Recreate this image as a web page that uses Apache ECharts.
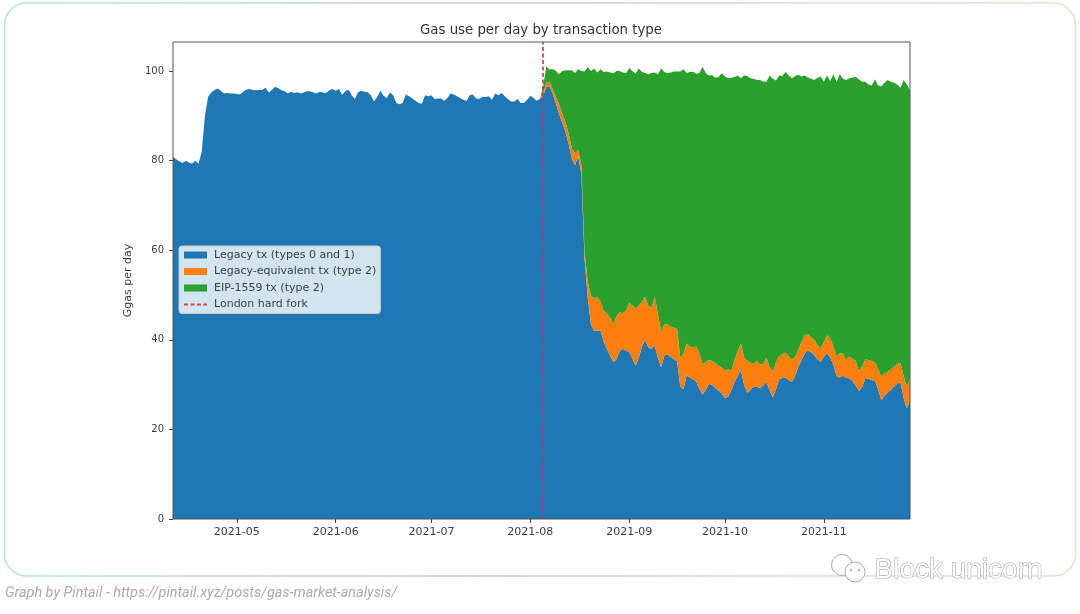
<!DOCTYPE html>
<html>
<head>
<meta charset="utf-8">
<title>Gas use per day by transaction type</title>
<script src="https://cdn.jsdelivr.net/npm/echarts@6/dist/echarts.min.js"></script>
<style>
html, body { margin: 0; padding: 0; background: #fff; }
#chart { width: 1080px; height: 614px; }
</style>
</head>
<body>
<div id="chart"></div>
<script>
// ==========================================
// DATA (Ggas per day)
// ==========================================
const firstDay = '2021-04-11';
const forkDay = '2021-08-05'; // London hard fork
const yMax = 106.5;
const yTicks = [0, 20, 40, 60, 80, 100];
const xTicks = ['2021-05-01', '2021-06-01', '2021-07-01', '2021-08-01', '2021-09-01', '2021-10-01', '2021-11-01'];

// one value per day from firstDay
const legacyTx = [
  80.8,80.3,79.8,79.5,80,79.6,79.4,80,79.3,82,
  90,94.3,95.2,95.8,96.1,95.6,95,95.1,95,95,
  94.9,94.8,95.4,95.9,96,95.8,95.7,95.8,95.8,96.3,
  95.2,95.8,96.5,96.2,95.7,95.5,95,95.4,95.1,95.3,
  95,95.2,95.5,95.5,95.2,95,95.4,95.2,95.1,95.7,
  96,95.6,96,94.7,95.5,95.9,94.6,93.8,95.3,95.6,
  95.4,95.3,94.6,93.2,94.2,95.6,94.5,94,95.2,94.6,
  92.9,92.6,92.9,94.8,94.4,93.9,93.4,92.9,92.7,94.6,
  94.4,94.6,93.8,93.9,93.9,93.4,94,95,94.8,94.4,
  94,93.6,93.3,94.6,94.8,93.9,93.8,94.3,94.2,94.4,
  93.6,95,94.6,95.1,94.4,93.7,93.2,93.2,93.8,92.9,
  92.9,93.6,94.5,94,93.4,93.8,94.5,96.4,96.6,95,
  92.8,90.5,88.5,86.5,83.8,80.5,79,81,77,58,
  49.5,43.5,41.9,42.1,42.1,39.5,38,36.5,35,35.6,
  37.5,38,37.6,37.3,35.8,34.2,36,38.5,40,38.3,
  38,38.7,36,33.8,36.5,36.8,36.1,35.7,35.2,29.5,
  29,32.1,31.6,31.2,30.7,29,27.8,28.8,30.2,29.9,
  29.3,28.7,28,27,27.3,28.8,30.6,32,33.2,30,
  28.2,28.8,29.6,29.6,29.2,29.8,30.6,28.7,27.2,29,
  31.2,31.5,31.6,31,30.6,32,34,35.5,37,37.7,
  37.3,36.6,35.6,35.1,36.2,37,36,34.5,31.9,31.6,
  32,31.5,31.4,30.8,29.8,28.6,29.4,31.4,31.3,31,
  31,29,26.5,27.5,28.2,28.8,29.6,30.2,30.6,27,24.7,26.5
];

// top edge of the orange band, one value per day from forkDay
const equivalentTop = [
  95,97.4,97.6,96,
  94.3,92.6,90.5,88.7,86,82.8,81.6,82.4,79,59.5,
  53,49.8,49.3,49.5,48.5,46.5,45.8,45,43.4,45.2,
  46.1,46,46.5,48.3,47.6,47,47.6,48.5,49.6,47.5,
  47.2,49.5,45.8,41.8,43.5,43.5,42.9,42.7,42.4,36,
  36.9,39.2,38.5,38.3,38.5,37,34.5,35,35.5,35.3,
  34.8,34.2,33.8,33.2,33.4,33.2,35.5,37.5,39.2,36,
  35.3,34.9,34.6,35.3,34.5,34.6,36,34,32.9,35,
  36.3,36.8,37.2,36.3,35.5,36.2,37.8,39.5,41,41.3,
  40.6,40,38.8,38.1,39.5,41,40.3,38.5,36.3,37,
  36.9,35.5,36.2,35.8,35.2,33,34,35.6,35.5,35.2,
  35,33.5,31.8,32.5,32.8,33.4,34,34.6,34.9,32,29.5,31.3
];

// top edge of the green band, one value per day from forkDay
const totalTop = [
  96.5,101,100.4,100.4,
  100.1,99.3,100,100.2,100.2,100.2,99.6,100.4,100,99.9,
  100.9,100,100.6,99.7,100.4,99.8,99.9,99.7,99.5,100,
  100,99.7,99.6,100.7,100,99.4,100.6,99.8,99.6,99.3,
  99.6,99.7,99.3,100.6,99.8,99.5,99.7,99.9,99.9,99.9,
  100.4,99.6,99.8,99.85,99.4,99.6,101,99.5,99,99.1,
  98.5,98.7,99.5,98.8,98.4,98.5,98.7,99,98.4,99,
  98.9,98.4,98.3,98,98,97.7,97.6,99,98.3,97.9,
  99,98.9,99.8,99,98.4,98.9,99.2,98.8,99,98.6,
  98.3,98,98.5,98.8,97.6,99,97.8,99.3,97.6,99.3,
  98.3,98,98.4,98.6,98.7,98.1,97.6,97.6,97,96.8,
  98.2,96.8,96.6,97.4,98,97.6,97.4,97,96.3,98,97,95.8
];

const titleText = 'Gas use per day by transaction type';
const creditText = 'Graph by Pintail - https://pintail.xyz/posts/gas-market-analysis/';
const markText = 'Block unicorn';

// ==========================================
// SERIES BUILDING
// ==========================================
const DAY = 86400000;
const startTime = new Date(firstDay + 'T00:00:00Z').getTime();
const days = legacyTx.map((_, i) => new Date(startTime + i * DAY).toISOString().slice(0, 10));
const forkIndex = days.indexOf(forkDay);

// the picture gives band edges, the stack wants band thickness
const equivalentTx = legacyTx.map((v, i) =>
  i < forkIndex ? 0 : +(equivalentTop[i - forkIndex] - v).toFixed(2));
const eip1559Tx = legacyTx.map((v, i) =>
  i < forkIndex ? 0 : +(totalTop[i - forkIndex] - equivalentTop[i - forkIndex]).toFixed(2));

const bandSeries = (name, values, color) => ({
  name,
  type: 'line',
  stack: 'gas',
  data: values,
  showSymbol: false,
  symbol: 'none',
  silent: true,
  lineStyle: { width: 0, color },
  itemStyle: { color },
  areaStyle: { color, opacity: 1 }
});

const isMonthTick = (i, day) => xTicks.includes(day);

const textColor = '#3d3d3d';
const forkColor = '#dc2a3c';
const fontFamily = '"DejaVu Sans", sans-serif';

// ==========================================
// CHART
// ==========================================
const chart = echarts.init(document.getElementById('chart'), null, { renderer: 'canvas' });

chart.setOption({
  animation: false,
  backgroundColor: '#fff',
  title: {
    text: titleText,
    left: 536,
    top: 19,
    textAlign: 'center',
    textStyle: { fontFamily, fontSize: 13.3, fontWeight: 'normal', color: '#333' }
  },
  grid: {
    left: 173, right: 170, top: 42, bottom: 95,
    show: true, borderColor: '#555', borderWidth: 1, z: 5
  },
  legend: {
    orient: 'vertical',
    left: 179,
    top: 246,
    padding: [2, 4, 2, 4],
    itemGap: 2.5,
    itemWidth: 23,
    itemHeight: 7,
    backgroundColor: 'rgba(255,255,255,0.8)',
    borderColor: '#ccc',
    borderWidth: 1,
    borderRadius: 3,
    selectedMode: false,
    textStyle: { fontFamily, fontSize: 11, color: textColor, lineHeight: 14, padding: [0, 0, 0, 2] },
    data: [
      { name: 'Legacy tx (types 0 and 1)', icon: 'rect' },
      { name: 'Legacy-equivalent tx (type 2)', icon: 'rect' },
      { name: 'EIP-1559 tx (type 2)', icon: 'rect' },
      { name: 'London hard fork', itemStyle: { opacity: 0 } }
    ]
  },
  xAxis: {
    type: 'category',
    data: days,
    boundaryGap: false,
    axisLine: { show: false },
    splitLine: { show: false },
    axisTick: {
      show: true, length: 4, interval: isMonthTick, alignWithLabel: true,
      lineStyle: { color: '#444' }
    },
    axisLabel: {
      interval: isMonthTick,
      formatter: day => day.slice(0, 7),
      fontFamily, fontSize: 11, color: textColor, margin: 8
    }
  },
  yAxis: {
    type: 'value',
    min: 0,
    max: yMax,
    name: 'Ggas per day',
    nameLocation: 'middle',
    nameGap: 28,
    nameTextStyle: { fontFamily, fontSize: 11, color: textColor },
    axisLine: { show: false },
    splitLine: { show: false },
    axisTick: {
      show: true, length: 4, customValues: yTicks,
      lineStyle: { color: '#444' }
    },
    axisLabel: {
      customValues: yTicks,
      fontFamily, fontSize: 10, color: textColor, margin: 9
    }
  },
  series: [
    bandSeries('Legacy tx (types 0 and 1)', legacyTx, '#1f77b4'),
    bandSeries('Legacy-equivalent tx (type 2)', equivalentTx, '#ff7f0e'),
    bandSeries('EIP-1559 tx (type 2)', eip1559Tx, '#2ca02c'),
    {
      name: 'London hard fork',
      type: 'line',
      data: [],
      showSymbol: false,
      silent: true,
      z: 4,
      lineStyle: { color: forkColor, width: 1.5, type: [4, 2.5], opacity: 0.85 },
      itemStyle: { color: forkColor },
      markLine: {
        silent: true,
        symbol: 'none',
        animation: false,
        label: { show: false },
        lineStyle: { color: forkColor, width: 2, type: [4, 2.5], opacity: 0.8 },
        data: [{ xAxis: forkDay }]
      }
    }
  ],
  graphic: [
    {
      // rounded card around the figure
      type: 'rect',
      z: -1,
      shape: { x: 4.5, y: 3, width: 1071, height: 573, r: 22 },
      style: {
        fill: 'none',
        lineWidth: 1.5,
        stroke: new echarts.graphic.LinearGradient(0, 0, 1, 0, [
          { offset: 0, color: '#aee8d4' },
          { offset: 0.45, color: '#c8c8ea' },
          { offset: 0.8, color: '#f2cfdc' },
          { offset: 1, color: '#f3dcc8' }
        ])
      }
    },
    {
      type: 'text',
      left: 5,
      top: 586,
      style: {
        text: creditText,
        font: 'italic 14.4px Roboto, sans-serif',
        fill: '#ababab'
      }
    },
    // watermark: two chat bubbles and the account name
    {
      type: 'circle', z: 20,
      shape: { cx: 842, cy: 565, r: 10.5 },
      style: { fill: '#fff', stroke: '#a8a8a8', lineWidth: 1 }
    },
    {
      type: 'circle', z: 20,
      shape: { cx: 855, cy: 572, r: 10 },
      style: { fill: '#fff', stroke: '#a8a8a8', lineWidth: 1 }
    },
    { type: 'circle', z: 21, shape: { cx: 851, cy: 570, r: 1.2 }, style: { fill: '#a8a8a8' } },
    { type: 'circle', z: 21, shape: { cx: 859, cy: 570, r: 1.2 }, style: { fill: '#a8a8a8' } },
    {
      type: 'text', z: 20,
      left: 874,
      top: 556,
      style: {
        text: markText,
        font: '28px "Liberation Sans", sans-serif',
        fill: '#fff',
        stroke: '#9a9a9a',
        lineWidth: 1
      }
    }
  ]
});

window.addEventListener('resize', () => chart.resize());
</script>
</body>
</html>
